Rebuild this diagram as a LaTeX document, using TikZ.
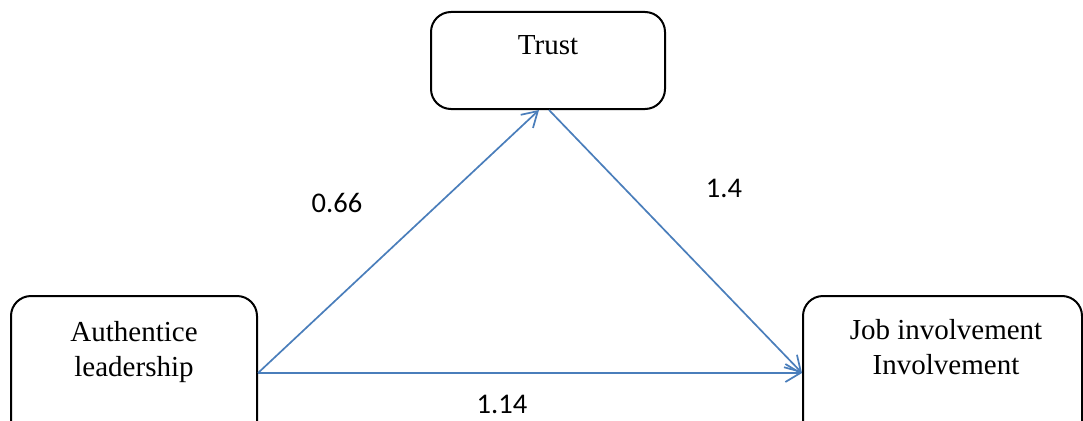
\documentclass[tikz,border=0pt]{standalone}
\usepackage{fontspec}
\setmainfont{Liberation Serif}
\newfontfamily\lblfont{Carlito}
\usetikzlibrary{arrows.meta}
\definecolor{lineblue}{RGB}{74,126,187}
\tikzset{
  boxnode/.style={draw=black, line width=2pt, rounded corners=20pt, inner sep=0pt},
  boxtext/.style={font=\fontsize{29}{35}\selectfont, align=center, inner sep=0pt, anchor=base},
  numlabel/.style={font=\lblfont\fontsize{28.5}{32}\selectfont, inner sep=0pt, anchor=base},
  link/.style={draw=lineblue, line width=1.7pt, -{Straight Barb[length=15pt,width=18pt,line width=1.7pt]}}
}
\begin{document}
\begin{tikzpicture}[x=1pt,y=-1pt]
\useasboundingbox (0,0) rectangle (1083,420);
\node[boxnode, minimum width=234pt, minimum height=97pt] (trust) at (548,60.5) {};
\begin{scope}
\clip (0,0) rectangle (1083,420);
\node[boxnode, minimum width=246pt, minimum height=154pt] (auth) at (134,373) {};
\node[boxnode, minimum width=279pt, minimum height=154pt] (job) at (942.5,373) {};
\end{scope}
\node[boxtext] (trusttext) at (548,55) {Trust};
\node[boxtext] (authtext) at (134,376) {Authentice\\leadership};
\node[boxtext] (jobtext) at (946,374) {Job involvement\\Involvement};
\draw[link] (auth.east) -- ([xshift=-9pt]trust.south);
\draw[link] ([xshift=1pt]trust.south) -- (job.west);
\draw[link] (auth.east) -- (job.west);
\node[numlabel] (l1) at (337,212) {0.66};
\node[numlabel] (l2) at (724,197) {1.4};
\node[numlabel] (l3) at (502,413) {1.14};
\end{tikzpicture}
\end{document}
